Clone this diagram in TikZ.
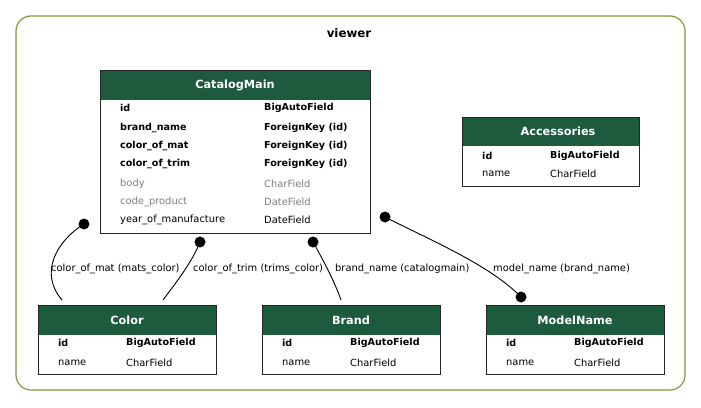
\documentclass[tikz,border=0pt]{standalone}
\usepackage{fontspec}
\setmainfont{DejaVu Sans}
\definecolor{hdr}{HTML}{1D5A3E}
\definecolor{clus}{HTML}{7B9B3C}
\definecolor{gtxt}{HTML}{7F7F7F}
\begin{document}
\begin{tikzpicture}[x=1pt,y=-1pt,
  fld/.style={anchor=west,inner sep=0pt,font=\fontsize{9.9}{11}\selectfont},
  bfld/.style={fld,font=\fontsize{9.6}{11}\selectfont\bfseries},
  gfld/.style={fld,text=gtxt},
  tbox/.style={draw=black!85,line width=1pt,fill=white},
  thead/.style={fill=hdr},
  htxt/.style={text=white,inner sep=0pt,font=\fontsize{11.3}{13}\selectfont\bfseries},
  lbl/.style={inner sep=0pt,font=\fontsize{9.9}{11}\selectfont},
  dot/.style={circle,fill=black,inner sep=0pt,minimum size=11pt},
  conn/.style={draw=black,line width=0.9pt}]
\useasboundingbox (0,0) rectangle (701,407);
\fill[white] (0,0) rectangle (701,407);
% cluster
\draw[clus,line width=1.2pt,rounded corners=15pt] (16,16) rectangle (685,390);
\node[inner sep=0pt,font=\fontsize{11.8}{13}\selectfont\bfseries] (viewer) at (349,33.5) {viewer};

% CatalogMain
\draw[tbox] (100,70) rectangle (370,233);
\fill[thead] (100.5,70.5) rectangle (369.5,100);
\node[htxt] (cm) at (235,85.5) {CatalogMain};
\node[bfld] (cm1a) at (120,108) {id};
\node[bfld] (cm1b) at (264,108) {BigAutoField};
\node[bfld] (cm2a) at (120,128) {brand\_name};
\node[bfld] (cm2b) at (264,128) {ForeignKey (id)};
\node[bfld] (cm3a) at (120,146) {color\_of\_mat};
\node[bfld] (cm3b) at (264,146) {ForeignKey (id)};
\node[bfld] (cm4a) at (120,164) {color\_of\_trim};
\node[bfld] (cm4b) at (264,164) {ForeignKey (id)};
\node[gfld] (cm5a) at (120,184) {body};
\node[gfld] (cm5b) at (264,184) {CharField};
\node[gfld] (cm6a) at (120,202) {code\_product};
\node[gfld] (cm6b) at (264,202) {DateField};
\node[fld] (cm7a) at (120,220) {year\_of\_manufacture};
\node[fld] (cm7b) at (264,220) {DateField};

% Accessories
\draw[tbox] (462,117) rectangle (639,186);
\fill[thead] (462.5,117.5) rectangle (638.5,146);
\node[htxt] (acc) at (558,131.5) {Accessories};
\node[bfld] (acc1a) at (482,156) {id};
\node[bfld] (acc1b) at (550,156) {BigAutoField};
\node[fld] (acc2a) at (482,174) {name};
\node[fld] (acc2b) at (550,174) {CharField};

% Color
\draw[tbox] (38,305) rectangle (216,374);
\fill[thead] (38.5,305.5) rectangle (215.5,335);
\node[htxt] (col) at (127,320.5) {Color};
\node[bfld] (col1a) at (58,343) {id};
\node[bfld] (col1b) at (126,343) {BigAutoField};
\node[fld] (col2a) at (58,363) {name};
\node[fld] (col2b) at (126,363) {CharField};

% Brand
\draw[tbox] (262,305) rectangle (440,374);
\fill[thead] (262.5,305.5) rectangle (439.5,335);
\node[htxt] (br) at (351,320.5) {Brand};
\node[bfld] (br1a) at (282,343) {id};
\node[bfld] (br1b) at (350,343) {BigAutoField};
\node[fld] (br2a) at (282,363) {name};
\node[fld] (br2b) at (350,363) {CharField};

% ModelName
\draw[tbox] (486,305) rectangle (664,374);
\fill[thead] (486.5,305.5) rectangle (663.5,335);
\node[htxt] (mn) at (575,320.5) {ModelName};
\node[bfld] (mn1a) at (506,343) {id};
\node[bfld] (mn1b) at (574,343) {BigAutoField};
\node[fld] (mn2a) at (506,363) {name};
\node[fld] (mn2b) at (574,363) {CharField};

% connectors
\node[dot] (d1) at (84,224) {};
\node[dot] (d2) at (200,242) {};
\node[dot] (d3) at (313,242) {};
\node[dot] (d4) at (385,217) {};
\node[dot] (d5) at (521,297) {};
\coordinate (e1) at (62,300);
\coordinate (e2) at (163,300);
\coordinate (e3) at (341,300);

\draw[conn] (d1.center) .. controls (58,240) and (38,272) .. (e1);
\draw[conn] (d2.center) .. controls (192,262) and (178,280) .. (e2);
\draw[conn] (d3.center) .. controls (322,258) and (334,280) .. (e3);
\draw[conn] (d4.center) .. controls (430,240) and (490,265) .. (d5.center);

\node[lbl,anchor=west] (l1) at (51,269) {color\_of\_mat (mats\_color)};
\node[lbl,anchor=west] (l2) at (193,269) {color\_of\_trim (trims\_color)};
\node[lbl,anchor=west] (l3) at (335,269) {brand\_name (catalogmain)};
\node[lbl,anchor=west] (l4) at (493,269) {model\_name (brand\_name)};
\end{tikzpicture}
\end{document}
